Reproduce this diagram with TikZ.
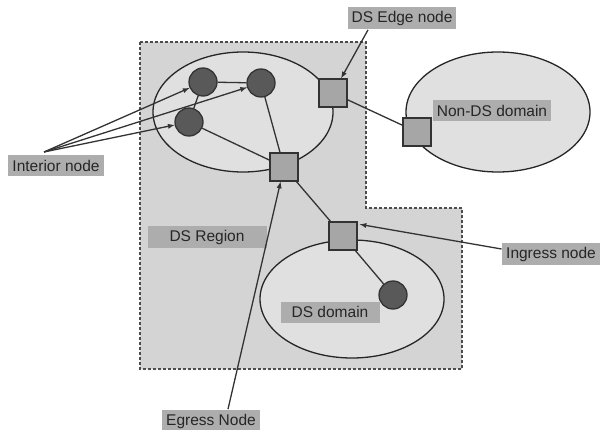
\documentclass[tikz,border=0pt]{standalone}
\usepackage{fontspec}
\setmainfont{Liberation Sans}
\begin{document}
\begin{tikzpicture}[x=1pt,y=-1pt,line width=1.3pt,
        router/.style={draw=black!80,fill=black!35,minimum size=28pt,inner sep=0pt},
        host/.style={circle,draw=black!80,fill=black!65,minimum size=28pt,inner sep=0pt},
        tag/.style={fill=black!32,inner sep=4pt,minimum height=21pt,text=black!85,
            font=\fontsize{15.5}{18}\selectfont},
        zone/.style={draw=black!85,fill=black!12},
        link/.style={draw=black!80},
        pointer/.style={draw=black!80,-latex}]
    \useasboundingbox (0,0) rectangle (601,430);

    % DS region
    \fill[black!17] (140,42) -- (366,42) -- (366,208) -- (462,208) -- (462,369) -- (140,369) -- cycle;
    \draw[black!70,densely dashed] (140,42) -- (366,42) -- (366,208) -- (462,208) -- (462,369) -- (140,369) -- cycle;

    % domains
    \draw[zone] (243,112) ellipse [x radius=90, y radius=60];
    \draw[zone] (498,112) ellipse [x radius=92, y radius=60];
    \draw[zone] (352,299) ellipse [x radius=92, y radius=59];

    % nodes
    \node[host] (c1) at (203,82) {};
    \node[host] (c2) at (261,83) {};
    \node[host] (c3) at (189,122) {};
    \node[host] (c4) at (393,295) {};
    \node[router] (s1) at (333,93) {};
    \node[router] (s2) at (284,167) {};
    \node[router] (s3) at (417,132) {};
    \node[router] (s4) at (343,236) {};

    % links
    \draw[link] (c1) -- (c2);
    \draw[link] (c3) -- (c1);
    \draw[link] (c2) -- (s2);
    \draw[link] (c3) -- (s2);
    \draw[link] (s1) -- (s3);
    \draw[link] (s2) -- (s4);
    \draw[link] (s4) -- (c4);

    % labels
    \node[tag] (edgetag) at (402,18) {DS Edge node};
    \node[tag,minimum width=117pt] (nondstag) at (492,111) {Non-DS domain};
    \node[tag] (interiortag) at (56,166) {Interior node};
    \node[tag,minimum width=119pt] (regiontag) at (207,237) {DS Region};
    \node[tag,minimum width=99pt] (domaintag) at (330,312) {DS domain};
    \node[tag] (egresstag) at (211,421) {Egress Node};
    \node[tag] (ingresstag) at (551,254) {Ingress node};

    % pointers
    \coordinate (fan) at (44,152);
    \foreach \n in {c1,c2,c3}
        \draw[pointer] (fan) -- (\n);
    \draw[pointer] ([xshift=-34pt]edgetag.south) -- (s1);
    \draw[pointer] ([xshift=17pt]egresstag.north) -- (s2);
    \draw[pointer] ([yshift=5pt]ingresstag.west) -- ([xshift=2pt,yshift=-3pt]s4.north east);
\end{tikzpicture}
\end{document}
